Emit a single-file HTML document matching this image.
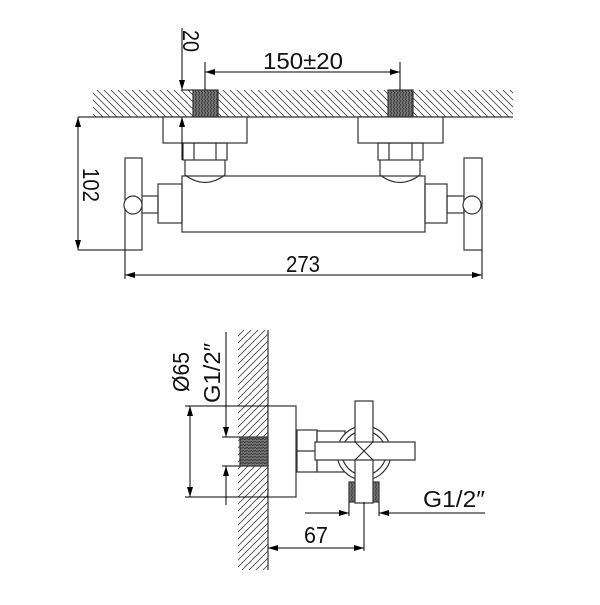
<!DOCTYPE html>
<html><head><style>html,body{margin:0;padding:0;background:#fff}</style></head><body>
<svg width="600" height="600" viewBox="0 0 600 600" xmlns="http://www.w3.org/2000/svg" font-family="Liberation Sans, sans-serif">
<defs>
<pattern id="h1" width="7" height="7" patternUnits="userSpaceOnUse"><path d="M-1,-1 L8,8 M-8,-1 L1,8 M6,-1 L15,8" stroke="#444" stroke-width="0.8"/></pattern>
<pattern id="h2" width="7" height="7" patternUnits="userSpaceOnUse"><path d="M-1,8 L8,-1 M-8,8 L1,-1 M6,8 L15,-1" stroke="#444" stroke-width="0.8"/></pattern>
<pattern id="th" width="4" height="3" patternUnits="userSpaceOnUse"><rect width="4" height="3" fill="#777"/><path d="M0,1.5 L4,0.5" stroke="#333" stroke-width="1"/></pattern>
<pattern id="tv" width="3" height="4" patternUnits="userSpaceOnUse"><rect width="3" height="4" fill="#777"/><path d="M1.5,0 L0.5,4" stroke="#333" stroke-width="1"/></pattern>
<marker id="a" viewBox="0 0 10 6" refX="10" refY="3" markerWidth="10" markerHeight="6" orient="auto-start-reverse" markerUnits="userSpaceOnUse"><path d="M0,0 L10,3 L0,6z" fill="#000"/></marker>
</defs>
<g fill="none" stroke="#333" stroke-width="1.2">
<rect x="93" y="90" width="420" height="27" fill="url(#h1)" stroke="none"/>
<line x1="78" y1="117" x2="513" y2="117"/>
<rect x="193" y="90" width="25" height="27" fill="url(#tv)"/>
<rect x="388" y="90" width="25" height="27" fill="url(#tv)"/>
<rect x="163" y="117" width="84" height="26" fill="#fff"/>
<rect x="358" y="117" width="85" height="26" fill="#fff"/>
<rect x="183" y="143" width="44" height="17"/><line x1="194" y1="143" x2="194" y2="160"/><line x1="216" y1="143" x2="216" y2="160"/>
<rect x="378" y="143" width="45" height="17"/><line x1="389" y1="143" x2="389" y2="160"/><line x1="412" y1="143" x2="412" y2="160"/>
<path d="M185,160 L185,175 Q205,190 225,175 L225,160"/>
<path d="M380,160 L380,175 Q400,190 420,175 L420,160"/>
<rect x="182" y="176" width="243" height="56"/>
<rect x="158" y="184" width="24" height="39"/>
<rect x="425" y="184" width="22" height="39"/>
<rect x="140" y="196" width="18" height="17"/>
<rect x="447" y="196" width="17" height="17"/>
<rect x="125" y="158" width="17" height="92" fill="#fff"/>
<rect x="464" y="158" width="18" height="92" fill="#fff"/>
<circle cx="133" cy="205" r="9" fill="#fff"/>
<circle cx="472" cy="205" r="9" fill="#fff"/>
</g>
<g stroke="#000" stroke-width="1" fill="none">
<line x1="78" y1="117" x2="78" y2="250" marker-start="url(#a)" marker-end="url(#a)"/>
<line x1="78" y1="250" x2="125" y2="250"/>
<line x1="125" y1="250" x2="125" y2="279"/><line x1="482" y1="250" x2="482" y2="279"/>
<line x1="125" y1="275" x2="482" y2="275" marker-start="url(#a)" marker-end="url(#a)"/>
<line x1="205" y1="62" x2="205" y2="90"/><line x1="400" y1="62" x2="400" y2="90"/>
<line x1="205" y1="72" x2="400" y2="72" marker-start="url(#a)" marker-end="url(#a)"/>
<line x1="182" y1="28" x2="182" y2="90" marker-end="url(#a)"/>
<line x1="182" y1="160" x2="182" y2="117" marker-end="url(#a)"/>
<line x1="182" y1="90" x2="193" y2="90"/>
</g>
<g font-size="23" fill="#111">
<text x="303" y="69" text-anchor="middle" textLength="80" lengthAdjust="spacingAndGlyphs">150±20</text>
<text x="303" y="272" text-anchor="middle" textLength="34" lengthAdjust="spacingAndGlyphs">273</text>
<text transform="translate(83,185) rotate(90)" text-anchor="middle" textLength="34" lengthAdjust="spacingAndGlyphs">102</text>
<text transform="translate(183,41) rotate(90)" text-anchor="middle" textLength="22" lengthAdjust="spacingAndGlyphs">20</text>
</g>
<g fill="none" stroke="#333" stroke-width="1.2">
<rect x="238" y="330" width="30" height="240" fill="url(#h2)" stroke="none"/>
<line x1="268" y1="330" x2="268" y2="570"/>
<rect x="240" y="437" width="28" height="29" fill="url(#th)"/>
<rect x="268" y="406" width="28" height="91" fill="#fff"/>
<rect x="297" y="430" width="20" height="42"/><line x1="297" y1="451" x2="317" y2="451"/>
<rect x="317" y="431" width="28" height="41"/>
<circle cx="364" cy="453" r="27" fill="#fff"/>
<circle cx="364" cy="453" r="22"/>
<rect x="349" y="482" width="30" height="20" fill="url(#tv)"/>
<rect x="355" y="401" width="18" height="102" fill="#fff"/>
<rect x="315" y="442" width="100" height="18" fill="#fff"/>
<path d="M355,442 L373,460 M373,442 L355,460"/>
</g>
<g stroke="#000" stroke-width="1" fill="none">
<line x1="185" y1="406" x2="268" y2="406"/><line x1="185" y1="497" x2="268" y2="497"/>
<line x1="190" y1="406" x2="190" y2="497" marker-start="url(#a)" marker-end="url(#a)"/>
<line x1="222" y1="437" x2="240" y2="437"/><line x1="222" y1="466" x2="240" y2="466"/>
<line x1="226" y1="332" x2="226" y2="437" marker-end="url(#a)"/>
<line x1="226" y1="505" x2="226" y2="466" marker-end="url(#a)"/>
<line x1="349" y1="502" x2="349" y2="516"/><line x1="379" y1="502" x2="379" y2="516"/>
<line x1="305" y1="513" x2="349" y2="513" marker-end="url(#a)"/>
<line x1="485" y1="513" x2="379" y2="513" marker-end="url(#a)"/>
<line x1="364" y1="502" x2="364" y2="551"/>
<line x1="268" y1="548" x2="364" y2="548" marker-start="url(#a)" marker-end="url(#a)"/>
</g>
<g font-size="23" fill="#111">
<text x="454" y="507" text-anchor="middle" textLength="62" lengthAdjust="spacingAndGlyphs">G1/2″</text>
<text x="316" y="543" text-anchor="middle" textLength="24" lengthAdjust="spacingAndGlyphs">67</text>
<text transform="translate(189,372) rotate(-90)" text-anchor="middle" textLength="40" lengthAdjust="spacingAndGlyphs">Ø65</text>
<text transform="translate(220,373) rotate(-90)" text-anchor="middle" textLength="60" lengthAdjust="spacingAndGlyphs">G1/2″</text>
</g>
</svg>
</body></html>
